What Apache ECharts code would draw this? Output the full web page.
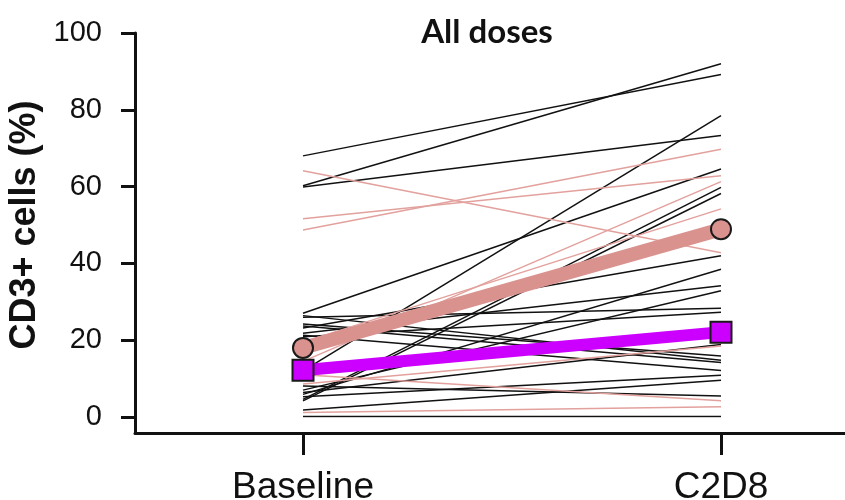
<!DOCTYPE html>
<html>
<head>
<meta charset="utf-8">
<script src="https://cdn.jsdelivr.net/npm/echarts@6/dist/echarts.min.js"></script>
<style>
  html, body { margin: 0; padding: 0; background: #fff; }
  #chart { width: 845px; height: 500px; }
</style>
</head>
<body>
<div id="chart"></div>
<script>
// Time points on the x axis
var timepoints = ['Baseline', 'C2D8'];
var yTicks = [0, 20, 40, 60, 80, 100];

// Individual patients, CD3+ cells (%) at Baseline and C2D8
var blackBaseline = [60.2, 68.0, 12.0, 59.9, 27.0, 4.6, 4.2, 23.2, 5.9, 21.8, 7.0, 26.0, 20.9, 6.4, 24.2, 26.4, 23.7, 21.3, 5.3, 8.1, 1.8, 0.1];
var blackC2D8     = [92.0, 89.2, 78.5, 73.3, 64.6, 59.8, 58.2, 42.0, 38.5, 34.2, 32.9, 28.3, 27.3, 18.9, 15.9, 14.8, 14.2, 12.1, 10.9, 5.5, 9.6, 0.1];
var pinkBaseline  = [64.1, 51.6, 48.7, 14.5, 19.5, 8.6, 11.0, 1.2];
var pinkC2D8      = [42.8, 62.8, 69.7, 61.3, 54.2, 18.5, 4.2, 2.7];

// Group summary lines
var summaryPink    = [18.0, 48.9];
var summaryMagenta = [12.2, 22.1];

var series = [];
function pairLine(a, b, color, width) {
  return {
    type: 'line', xAxisIndex: 0, yAxisIndex: 0, silent: true,
    symbol: 'none', animation: false,
    lineStyle: { color: color, width: width },
    data: [[0, a], [1, b]]
  };
}
blackBaseline.forEach(function (v, i) { series.push(pairLine(v, blackC2D8[i], '#111111', 1.5)); });
pinkBaseline.forEach(function (v, i) { series.push(pairLine(v, pinkC2D8[i], '#e2a19d', 1.5)); });

series.push({
  type: 'line', xAxisIndex: 0, yAxisIndex: 0, animation: false,
  symbol: 'circle', symbolSize: 20,
  itemStyle: { color: '#d9928e', borderColor: '#1a1a1a', borderWidth: 2 },
  lineStyle: { color: '#d9928e', width: 14 },
  data: [[0, summaryPink[0]], [1, summaryPink[1]]]
});
series.push({
  type: 'line', xAxisIndex: 0, yAxisIndex: 0, animation: false,
  symbol: 'rect', symbolSize: 21,
  itemStyle: { color: '#cc00ff', borderColor: '#1a1a1a', borderWidth: 2 },
  lineStyle: { color: '#cc00ff', width: 12 },
  data: [[0, summaryMagenta[0]], [1, summaryMagenta[1]]]
});

var noBounds = { outerBoundsMode: 'none', containLabel: false };
function gridAt(l, r, t, b) {
  return Object.assign({ left: l, right: r, top: t, bottom: b }, noBounds);
}

var chart = echarts.init(document.getElementById('chart'), null, { renderer: 'canvas' });
chart.setOption({
  backgroundColor: '#ffffff',
  title: {
    text: 'All doses', left: 482, top: 11, textAlign: 'center',
    textStyle: { fontFamily: 'Lato', fontWeight: 'bold', fontSize: 33, color: '#111' }
  },
  grid: [
    gridAt(303, 124, 33, 83),  // plotting area between the two time points
    gridAt(135, 0, 33, 67),    // frame of the axis lines
    gridAt(135, 0, 33, 83),    // value scale with ticks and labels
    gridAt(303, 124, 33, 67)   // time point ticks and labels
  ],
  xAxis: [
    { gridIndex: 0, type: 'value', min: 0, max: 1, show: false },
    {
      gridIndex: 1, type: 'value', min: 0, max: 1,
      axisLine: { show: true, onZero: false, lineStyle: { color: '#111', width: 3 } },
      axisTick: { show: false }, axisLabel: { show: false }, splitLine: { show: false }
    },
    { gridIndex: 2, type: 'value', min: 0, max: 1, show: false },
    {
      gridIndex: 3, type: 'value', min: 0, max: 1, interval: 1,
      axisLine: { show: false },
      axisTick: { show: true, length: 22, lineStyle: { color: '#111', width: 3 } },
      axisLabel: {
        margin: 36, fontSize: 37, color: '#111', fontFamily: 'Liberation Sans',
        formatter: function (v) { return timepoints[Math.round(v)]; }
      },
      splitLine: { show: false }
    }
  ],
  yAxis: [
    {
      gridIndex: 0, type: 'value', min: yTicks[0], max: yTicks[yTicks.length - 1], interval: 20,
      show: false
    },
    {
      gridIndex: 1, type: 'value', min: 0, max: 1,
      axisLine: { show: true, onZero: false, lineStyle: { color: '#111', width: 3 } },
      axisTick: { show: false }, axisLabel: { show: false }, splitLine: { show: false }
    },
    {
      gridIndex: 2, type: 'value', min: yTicks[0], max: yTicks[yTicks.length - 1], interval: 20,
      name: 'CD3+ cells (%)', nameLocation: 'middle', nameRotate: 90, nameGap: 80,
      nameTextStyle: { fontFamily: 'Liberation Sans', fontWeight: 'bold', fontSize: 36, color: '#111' },
      axisLine: { show: false },
      axisTick: { show: true, length: 14, lineStyle: { color: '#111', width: 3 } },
      axisLabel: { margin: 33, fontSize: 29, color: '#111', fontFamily: 'Liberation Sans' },
      splitLine: { show: false }
    },
    { gridIndex: 3, type: 'value', min: 0, max: 1, show: false }
  ],
  series: series
});
</script>
</body>
</html>
